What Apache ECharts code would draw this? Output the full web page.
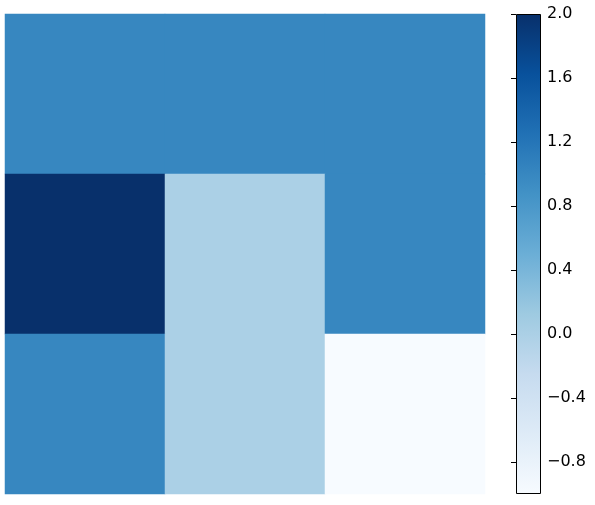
<html>
<meta http-equiv="Content-Type" content="text/html; charset=UTF-8">
<script type="text/javascript" src="https://cdn.jsdelivr.net/npm/echarts@6/dist/echarts.min.js"></script>
<body style="margin:0;background:#fff">
<div id="main" style="width:595px;height:505px;"></div>
<script type="text/javascript">
// heatmap grid, rows from top to bottom
var cols = ['0', '1', '2'];
var rows = ['0', '1', '2'];
var values = [
  [1, 1, 1],
  [2, 0, 1],
  [1, 0, -1]
];
var cbMin = -1;
var cbMax = 2;
var cbTicks = [-0.8, -0.4, 0, 0.4, 0.8, 1.2, 1.6, 2.0];
// matplotlib "Blues"
var blues = ['#f7fbff', '#deebf7', '#c6dbef', '#9ecae1', '#6baed6', '#4292c6', '#2171b5', '#08519c', '#08306b'];

var cells = [];
for (var r = 0; r < rows.length; r++) {
  for (var c = 0; c < cols.length; c++) {
    cells.push([c, r, values[r][c]]);
  }
}

var stops = [];
for (var i = 0; i < blues.length; i++) {
  // offset 0 = top of the bar = high end
  stops.push({offset: 1 - i / (blues.length - 1), color: blues[i]});
}

var myChart = echarts.init(document.getElementById('main'));
myChart.setOption({
  animation: false,
  backgroundColor: '#fff',
  grid: [
    {left: 5, top: 14, width: 480, height: 480},
    {left: 516, top: 14, width: 25, height: 480}
  ],
  xAxis: [
    {type: 'category', data: cols, gridIndex: 0, show: false},
    {type: 'value', gridIndex: 1, min: 0, max: 1, show: false}
  ],
  yAxis: [
    {type: 'category', data: rows, gridIndex: 0, inverse: true, show: false},
    {
      type: 'value', gridIndex: 1, position: 'right', min: cbMin, max: cbMax, z: 10,
      splitLine: {show: false},
      axisLine: {show: false},
      axisTick: {show: true, inside: true, length: 5, customValues: cbTicks,
        lineStyle: {color: '#000', width: 1}},
      axisLabel: {
        customValues: cbTicks, margin: 6, color: '#000', fontSize: 16,
        fontFamily: 'DejaVu Sans',
        formatter: function (v) { return v.toFixed(1).replace('-', '\u2212'); }
      }
    }
  ],
  visualMap: {
    show: false, type: 'continuous', min: cbMin, max: cbMax, seriesIndex: 0,
    inRange: {color: blues}
  },
  series: [
    {
      type: 'heatmap', xAxisIndex: 0, yAxisIndex: 0, data: cells,
      itemStyle: {borderWidth: 0}, emphasis: {disabled: true}
    },
    {
      type: 'custom', xAxisIndex: 1, yAxisIndex: 1, silent: true, z: 1,
      data: [[0, cbMin, cbMax]],
      renderItem: function (params, api) {
        var top = api.coord([0, api.value(2)]);
        var bot = api.coord([1, api.value(1)]);
        return {
          type: 'rect',
          shape: {x: top[0] + 0.5, y: top[1] + 0.5, width: bot[0] - top[0] - 1, height: bot[1] - top[1] - 1},
          style: {
            fill: new echarts.graphic.LinearGradient(0, 0, 0, 1, stops),
            stroke: '#000', lineWidth: 1
          }
        };
      }
    }
  ]
});
</script>
</body>
</html>
